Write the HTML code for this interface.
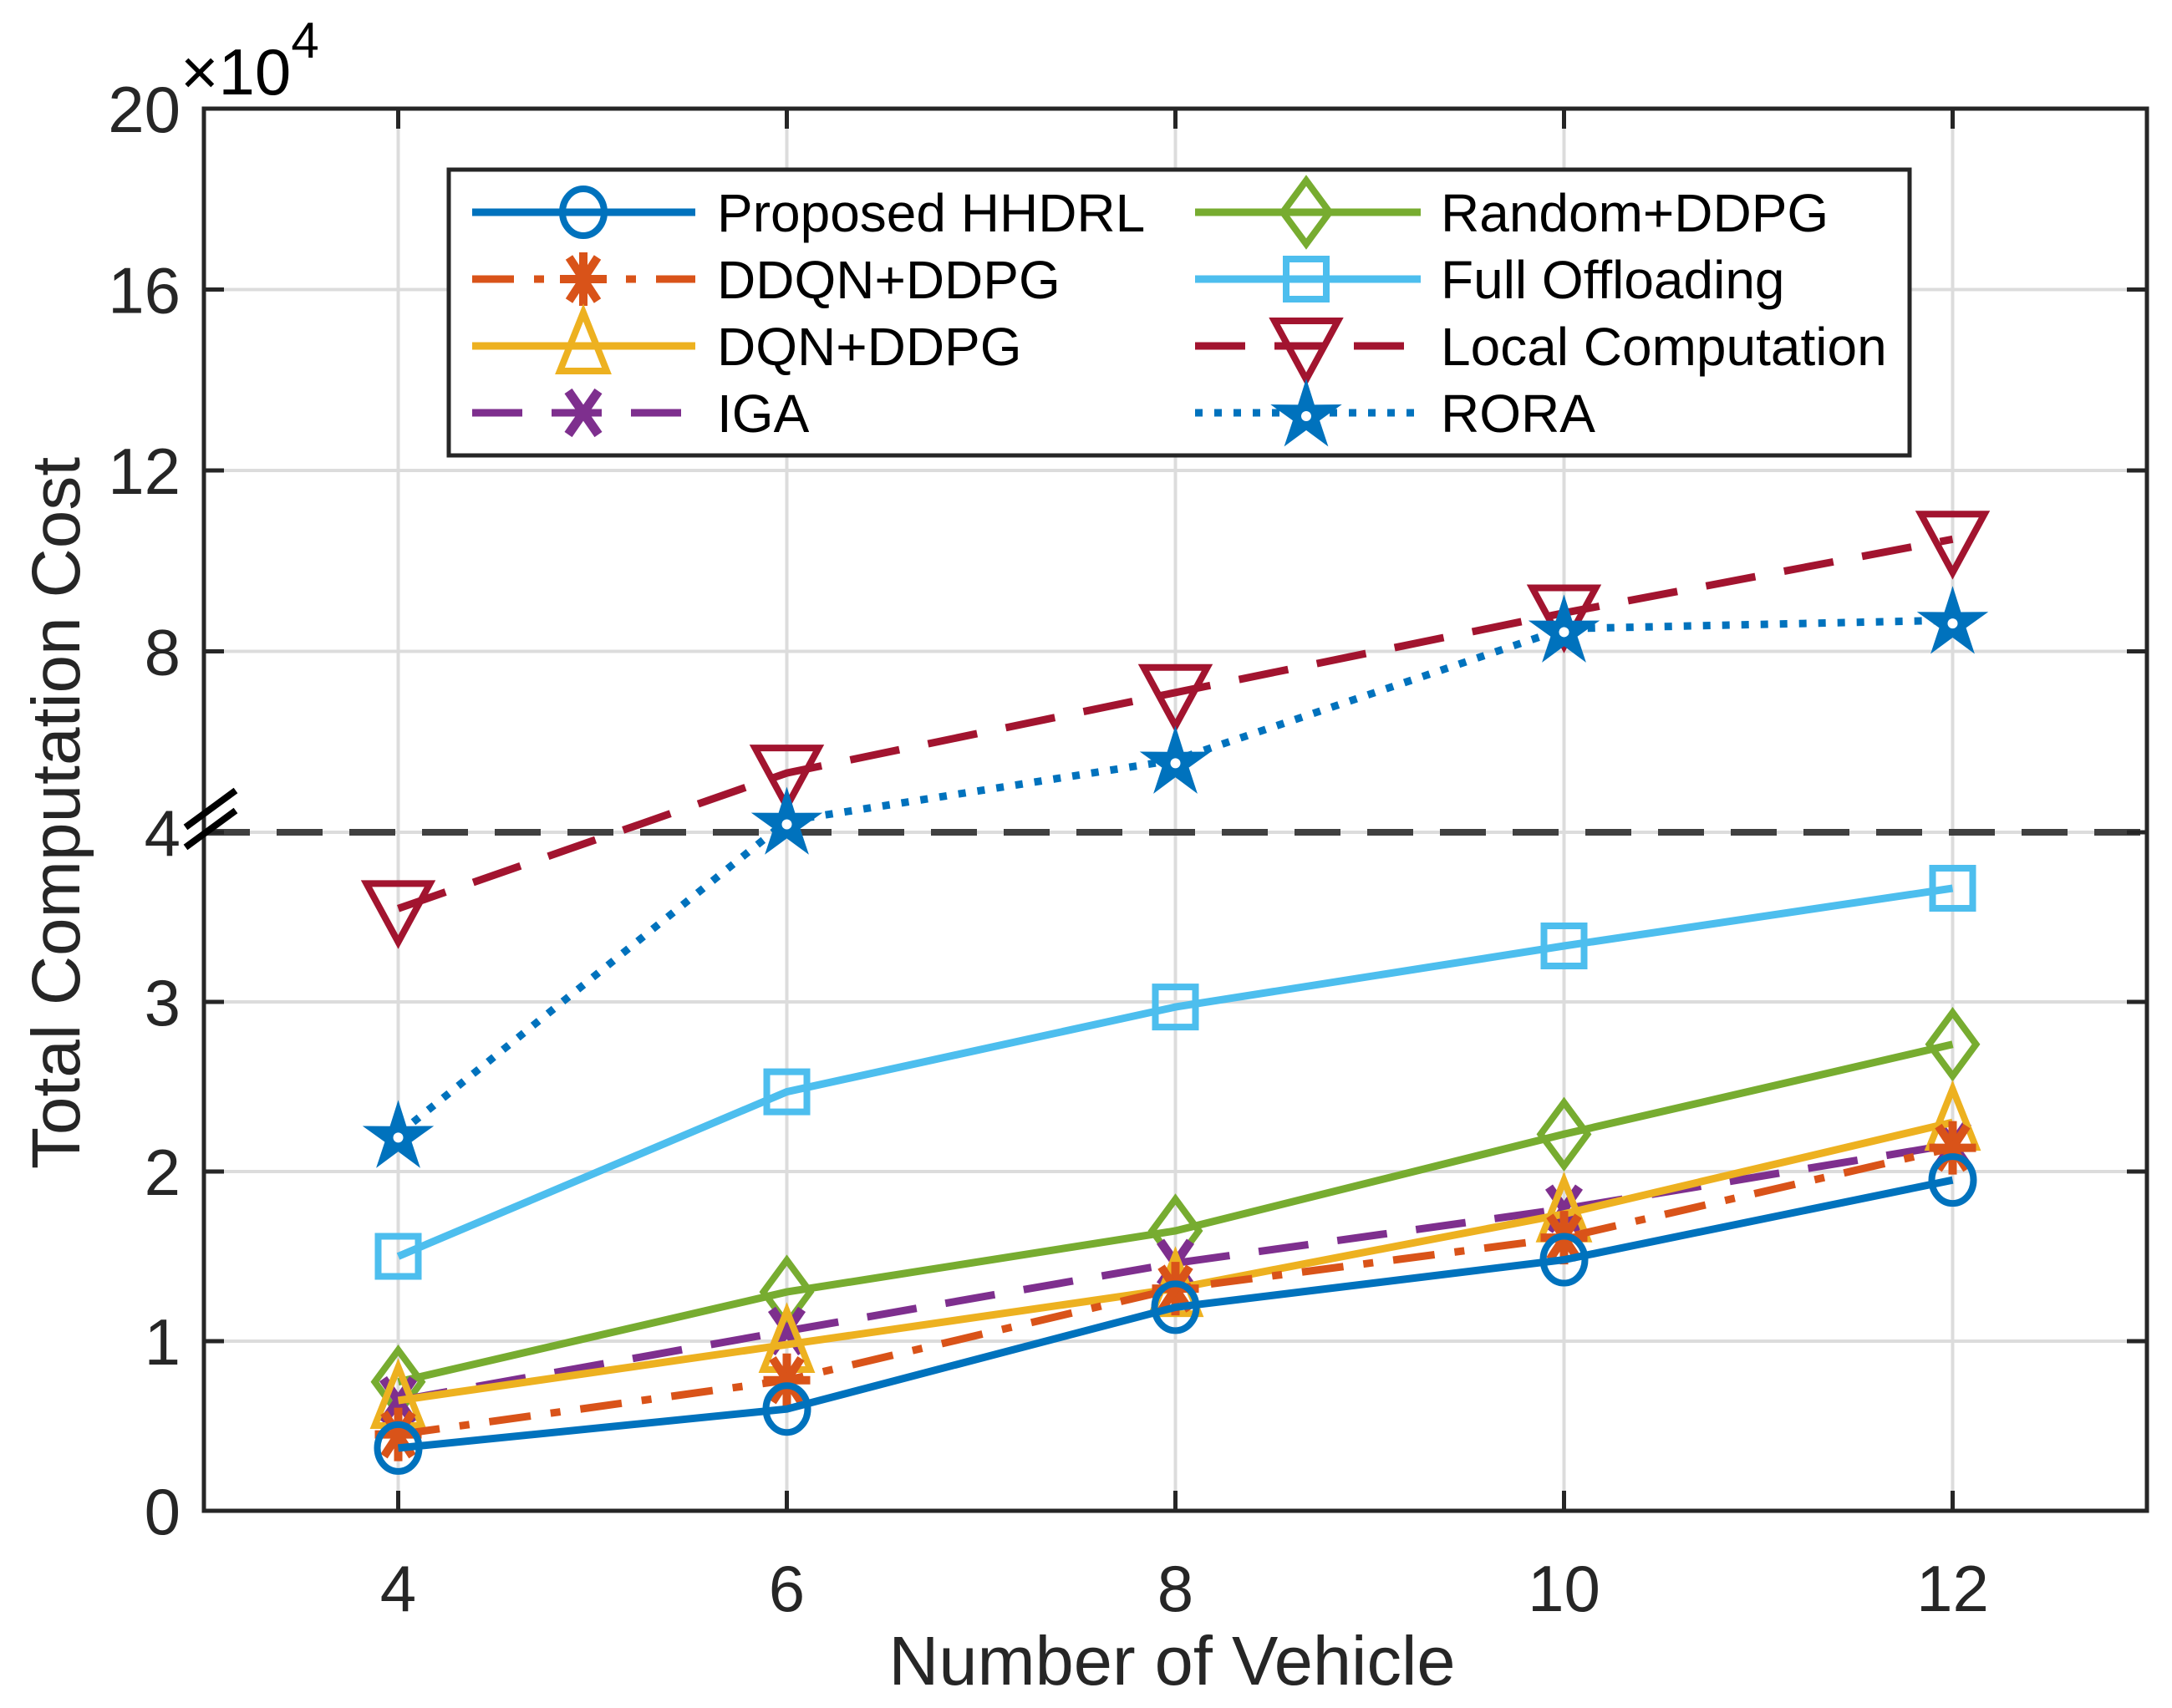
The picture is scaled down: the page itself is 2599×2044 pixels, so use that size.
<!DOCTYPE html>
<html><head><meta charset="utf-8"><style>
html,body{margin:0;padding:0;background:#fff;}
svg{display:block;font-family:"Liberation Sans",Arial,sans-serif;}
</style></head><body>
<svg id="chart" width="2599" height="2044" viewBox="0 0 2599 2044" xmlns="http://www.w3.org/2000/svg">
<rect width="2599" height="2044" fill="#fff"/>
<g id="grid"></g>
<g id="series"></g>
<g id="axes"></g>
<g id="legend"></g>
</svg>
<script>
const categories = [4, 6, 8, 10, 12];
const hhdrl = [0.37, 0.60, 1.20, 1.48, 1.95];
const ddqn = [0.45, 0.77, 1.31, 1.61, 2.14];
const dqn = [0.65, 0.98, 1.31, 1.75, 2.29];
const iga = [0.65, 1.06, 1.46, 1.78, 2.16];
const randomDdpg = [0.76, 1.29, 1.65, 2.22, 2.75];
const fullOff = [1.50, 2.47, 2.97, 3.33, 3.67];
const localComp = [3.55, 5.31, 7.09, 8.85, 10.48];
const rora = [2.22, 4.25, 5.60, 8.50, 8.69];
const xTicks = [4, 6, 8, 10, 12];
const yTicksLow = [0, 1, 2, 3, 4];
const yTicksHigh = [8, 12, 16, 20];

const NS = "http://www.w3.org/2000/svg";
const L = 244, R = 2569, T = 130, B = 1808;
const YB = 996;
function xs(v){ return L + (v - 3) * (R - L) / 10; }
function ys(v){ return v <= 4 ? B - v * (B - YB) / 4 : YB - (v - 4) * (YB - T) / 16; }
function mk(tag, attrs, parent){
  const e = document.createElementNS(NS, tag);
  for (const k in attrs) e.setAttribute(k, attrs[k]);
  parent.appendChild(e); return e;
}
const grid = document.getElementById('grid');
const axes = document.getElementById('axes');
const ser = document.getElementById('series');
const leg = document.getElementById('legend');
const AX = '#262626';
const LW = 9;

xTicks.forEach(t => {
  const g = mk('line', {x1: xs(t), x2: xs(t), y1: T, y2: B, stroke: '#dcdcdc', 'stroke-width': 4}, grid);
  
  
});
yTicksLow.concat(yTicksHigh).forEach(t => {
  const g = mk('line', {x1: L, x2: R, y1: ys(t), y2: ys(t), stroke: '#dcdcdc', 'stroke-width': 4}, grid);
  
  
});
const br = mk('line', {x1: L, x2: R, y1: YB, y2: YB, stroke: '#404040', 'stroke-width': 8, 'stroke-dasharray': '55 32'}, grid);



function marker(type, cx, cy, color, parent){
  const g = mk('g', {fill: 'none', stroke: color, 'stroke-width': 8}, parent);
  if (type === 'o') mk('ellipse', {cx, cy, rx: 25, ry: 28}, g);
  else if (type === '*') {
    mk('line', {x1: cx, x2: cx, y1: cy - 32, y2: cy + 32, 'stroke-width': 10}, g);
    mk('line', {x1: cx - 28, x2: cx + 28, y1: cy, y2: cy, 'stroke-width': 10}, g);
    mk('line', {x1: cx - 17, x2: cx + 17, y1: cy - 26, y2: cy + 26, 'stroke-width': 10}, g);
    mk('line', {x1: cx + 17, x2: cx - 17, y1: cy - 26, y2: cy + 26, 'stroke-width': 10}, g);
  } else if (type === '^') mk('polygon', {points: `${cx},${cy - 40} ${cx - 28},${cy + 30} ${cx + 28},${cy + 30}`}, g);
  else if (type === 'v') mk('polygon', {points: `${cx},${cy + 40} ${cx - 38},${cy - 30} ${cx + 38},${cy - 30}`}, g);
  else if (type === 'x') {
    mk('line', {x1: cx - 18, x2: cx + 18, y1: cy - 26, y2: cy + 26, 'stroke-width': 11}, g);
    mk('line', {x1: cx + 18, x2: cx - 18, y1: cy - 26, y2: cy + 26, 'stroke-width': 11}, g);
  } else if (type === 'd') mk('polygon', {points: `${cx},${cy - 38} ${cx + 28},${cy} ${cx},${cy + 38} ${cx - 28},${cy}`}, g);
  else if (type === 's') mk('rect', {x: cx - 24, y: cy - 24, width: 48, height: 48}, g);
  else if (type === 'p') {
    let pts = [];
    for (let i = 0; i < 10; i++) {
      const r = i % 2 ? 15 : 40, a = -Math.PI / 2 + i * Math.PI / 5;
      pts.push((cx + r * Math.cos(a)).toFixed(1) + ',' + (cy + 4 + r * Math.sin(a)).toFixed(1));
    }
    g.setAttribute('fill', color);
    mk('polygon', {points: pts.join(' '), 'stroke-width': 3}, g);
    mk('circle', {cx, cy: cy + 4, r: 6, fill: '#fff', stroke: 'none'}, g);
  }
  return g;
}

const seriesDefs = [
  {name: 'Proposed HHDRL', key: 'series-proposed-hhdrl', data: hhdrl, color: '#0072BD', dash: '', m: 'o'},
  {name: 'DDQN+DDPG', key: 'series-ddqn-ddpg', data: ddqn, color: '#D95319', dash: '50 24 12 24', m: '*'},
  {name: 'DQN+DDPG', key: 'series-dqn-ddpg', data: dqn, color: '#EDB120', dash: '', m: '^'},
  {name: 'IGA', key: 'series-iga', data: iga, color: '#7E2F8E', dash: '60 35', m: 'x'},
  {name: 'Random+DDPG', key: 'series-random-ddpg', data: randomDdpg, color: '#77AC30', dash: '', m: 'd'},
  {name: 'Full Offloading', key: 'series-full-offloading', data: fullOff, color: '#4DBEEE', dash: '', m: 's'},
  {name: 'Local Computation', key: 'series-local-computation', data: localComp, color: '#A2142F', dash: '60 35', m: 'v'},
  {name: 'RORA', key: 'series-rora', data: rora, color: '#0072BD', dash: '9 14', m: 'p'}
];
const drawOrder = [6, 7, 5, 4, 3, 2, 1, 0];
drawOrder.forEach(i => {
  const s = seriesDefs[i];
  const g = mk('g', {}, ser);
  
  
  const pts = s.data.map((v, j) => xs(categories[j]).toFixed(1) + ',' + ys(v).toFixed(1)).join(' ');
  const pl = mk('polyline', {points: pts, fill: 'none', stroke: s.color, 'stroke-width': LW}, g);
  if (s.dash) pl.setAttribute('stroke-dasharray', s.dash);
  
  
  s.data.forEach((v, j) => {
    const mm = marker(s.m, xs(categories[j]), ys(v), s.color, g);
    
    
  });
});

const box = mk('rect', {x: L, y: T, width: R - L, height: B - T, fill: 'none', stroke: AX, 'stroke-width': 5}, axes);


xTicks.forEach(t => {
  mk('line', {x1: xs(t), x2: xs(t), y1: B, y2: B - 24, stroke: AX, 'stroke-width': 5}, axes);
  mk('line', {x1: xs(t), x2: xs(t), y1: T, y2: T + 24, stroke: AX, 'stroke-width': 5}, axes);
  const tx = mk('text', {x: xs(t), y: B + 120, 'font-size': 78, fill: AX, 'text-anchor': 'middle'}, axes);
  tx.textContent = t;
  
  
});
yTicksLow.concat(yTicksHigh).forEach(t => {
  mk('line', {x1: L, x2: L + 24, y1: ys(t), y2: ys(t), stroke: AX, 'stroke-width': 5}, axes);
  mk('line', {x1: R, x2: R - 24, y1: ys(t), y2: ys(t), stroke: AX, 'stroke-width': 5}, axes);
  const tx = mk('text', {x: L - 28, y: ys(t) + 28, 'font-size': 78, fill: AX, 'text-anchor': 'end'}, axes);
  tx.textContent = t;
  
  
});
const bm = mk('g', {stroke: '#000', 'stroke-width': 8}, axes);


mk('line', {x1: 222, y1: 990, x2: 282, y2: 946}, bm);
mk('line', {x1: 222, y1: 1014, x2: 282, y2: 970}, bm);

const ex = mk('text', {x: 216, y: 113, 'font-size': 78, fill: '#000'}, axes);


ex.innerHTML = '×10<tspan dy="-44" font-size="60">4</tspan>';

const xl = mk('text', {x: (L + R) / 2 - 4, y: 2016, 'font-size': 83, fill: AX, 'text-anchor': 'middle'}, axes);
xl.textContent = 'Number of Vehicle';


const yl = mk('text', {x: 0, y: 0, 'font-size': 82, fill: AX, 'text-anchor': 'middle', transform: 'translate(95,973) rotate(-90)'}, axes);
yl.textContent = 'Total Computation Cost';



const lb = mk('rect', {x: 537, y: 203, width: 1748, height: 342, fill: '#fff', stroke: AX, 'stroke-width': 5}, leg);


const rowsY = [254, 334, 414, 494];
seriesDefs.forEach((s, i) => {
  const col = i < 4 ? 0 : 1, row = i % 4;
  const x0 = col ? 1430 : 565, x1 = col ? 1700 : 832, mx = col ? 1563 : 698, tx = col ? 1724 : 858;
  const y = rowsY[row];
  const g = mk('g', {}, leg);
  
  
  const ln = mk('line', {x1: x0, x2: x1, y1: y, y2: y, stroke: s.color, 'stroke-width': LW}, g);
  if (s.dash) ln.setAttribute('stroke-dasharray', s.dash);
  marker(s.m, mx, y, s.color, g);
  const t = mk('text', {x: tx, y: y + 23, 'font-size': 64, fill: '#000'}, g);
  t.textContent = s.name;
});
</script>
</body></html>
